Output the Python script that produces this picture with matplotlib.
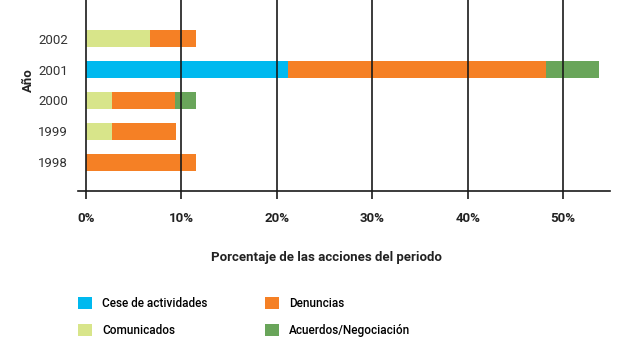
import numpy as np
import matplotlib
matplotlib.use("Agg")
import matplotlib.pyplot as plt

years = ["1998", "1999", "2000", "2001", "2002"]
cese = [0, 0, 0, 21.2, 0]
comunicados = [0, 2.8, 2.8, 0, 6.7]
denuncias = [11.6, 6.7, 6.6, 27.0, 4.9]
acuerdos = [0, 0, 2.2, 5.6, 0]

series = [
    ("Cese de actividades", cese, "#00B9EF"),
    ("Comunicados", comunicados, "#D8E58A"),
    ("Denuncias", denuncias, "#F58025"),
    ("Acuerdos/Negociación", acuerdos, "#69A55A"),
]

plt.rcParams.update({"font.family": "Roboto", "font.size": 8})

fig = plt.figure(figsize=(6.3, 3.5), dpi=100)
ax = fig.add_axes([78 / 630, 1 - 191 / 350, 532 / 630, 191 / 350])

y = np.arange(len(years))
left = np.zeros(len(years))
handles = []
for name, vals, col in series:
    vals = np.array(vals, dtype=float)
    h = ax.barh(y, vals, left=left, height=0.55, color=col, label=name, zorder=1)
    handles.append(h)
    left += vals

ax.set_xlim(-0.8, 54.9)
ax.set_ylim(-0.94, 5.26)
ticks = [0, 10, 20, 30, 40, 50]
ax.set_xticks(ticks)
ax.set_xticklabels([f"{t}%" for t in ticks], fontsize=9.5, fontweight="bold",
                   color="#222222")
for t in ticks:
    ax.axvline(t, color="#1a1a1a", lw=1.2, zorder=2)
ax.tick_params(axis="x", length=6, width=1.2, color="#1a1a1a", pad=9)
ax.set_yticks(y)
ax.set_yticklabels(years, fontsize=9.5, color="#333333")
ax.tick_params(axis="y", length=0, pad=7)
for s in ["top", "right", "left"]:
    ax.spines[s].set_visible(False)
ax.spines["bottom"].set_linewidth(1.2)
ax.spines["bottom"].set_color("#1a1a1a")

ax.set_xlabel("Porcentaje de las acciones del periodo", fontsize=9.5,
              fontweight="bold", color="#222222")
ax.xaxis.set_label_coords((326 - 78) / 532, -(251 - 191) / 191)
fig.text(28 / 630, 1 - 80 / 350, "Año", rotation=90, fontsize=9.5,
         fontweight="bold", ha="center", va="center", color="#222222")

fig.legend(handles=handles, loc="upper left", bbox_to_anchor=(78 / 630, 1 - 297 / 350),
           ncol=2, frameon=False, prop={"size": 8.5, "weight": "medium"},
           handlelength=1.19, handleheight=1.19, handletextpad=0.85,
           columnspacing=4.9, labelspacing=1.15, borderaxespad=0, borderpad=0)

fig.savefig("out.png", dpi=100)
